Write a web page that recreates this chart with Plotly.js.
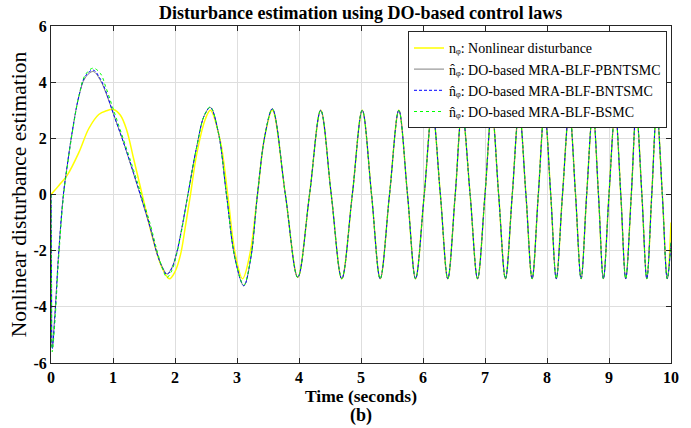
<!DOCTYPE html>
<html><head><meta charset="utf-8">
<script src="https://cdn.plot.ly/plotly-3.0.1.min.js"></script>
<style>html,body{margin:0;padding:0;background:#fff}#chart{width:691px;height:428px}</style>
</head><body><div id="chart"></div>
<script>
// Actual nonlinear disturbance n_phi (yellow)
const tYellow = [0,0.13,0.26,0.45,0.61,0.77,0.89,1.01,1.12,1.22,1.33,1.47,1.65,1.79,1.91,2.00,2.09,2.17,2.25,2.35,2.49,2.57,2.73,2.85,2.97,3.09,3.21,3.33,3.45,3.57,
  3.78,3.98,4.17,4.35,4.52,4.69,4.86,5.02,5.17,5.31,5.46,5.61,5.75,5.88,6.02,6.15,6.28,6.40,6.52,6.63,6.76,6.88,7.00,7.11,7.22,7.33,7.44,7.55,7.66,7.76,7.86,7.96,8.06,8.15,8.25,8.36,8.46,8.55,8.64,8.74,8.83,8.91,9.00,9.10,9.19,9.27,9.36,9.44,9.53,9.61,9.69,9.77,9.86,9.94,10.0];
const nYellow = [0,0.33,0.68,1.5,2.35,2.85,2.98,3.03,2.82,2.3,1.3,0,-1.63,-2.6,-3.0,-2.75,-2.13,-1.1,0,1.44,2.69,3.0,1.92,0,-2.1,-3.0,-2.1,0,2.1,3.0,
  0,-2.95,0,3.0,0,-3.0,0,3.0,0,-3.0,0,3.0,0,-3.0,0,3.0,0,-3.0,0,3.0,0,-3.0,0,3.0,0,-3.0,0,3.0,0,-3.0,0,3.0,0,-3.0,0,3.0,0,-3.0,0,3.0,0,-3.0,0,3.0,0,-3.0,0,3.0,0,-3.0,0,3.0,0,-3.0,-1.0];

// Estimates: early transient (distinct per controller) + common tail
const tEstHead = [0,0.008,0.02,0.07,0.12,0.20,0.26,0.34,0.45,0.55,0.68,0.80,0.88,1.01,1.17,1.33,1.44,1.60,1.71,1.80,1.87,1.95,2.03,2.11,2.20,2.35,2.47,2.57,2.70,2.83,2.97,3.11,3.22,3.33,3.45];
const nGrayHead  = [0,-3.0,-5.4,-4.0,-2.2,0,1.0,2.2,3.5,4.15,4.38,4.05,3.65,2.85,1.85,0.75,-0.02,-1.2,-2.1,-2.6,-2.82,-2.6,-2.05,-1.2,-0.1,1.7,2.8,3.1,2.2,0,-2.3,-3.25,-2.3,0,2.1];
const nBlueHead  = [0,-3.0,-5.5,-4.1,-2.2,0,1.0,2.2,3.5,4.2,4.43,4.1,3.7,2.85,1.85,0.78,0,-1.16,-2.1,-2.62,-2.85,-2.62,-2.05,-1.2,-0.1,1.7,2.8,3.1,2.2,0,-2.3,-3.25,-2.3,0,2.1];
const nGreenHead = [0,-3.0,-5.6,-4.3,-2.4,-0.1,0.95,2.15,3.5,4.25,4.5,4.3,3.85,3.0,1.95,0.88,0.1,-1.05,-2.0,-2.65,-2.95,-2.7,-2.1,-1.25,-0.1,1.7,2.8,3.12,2.2,0,-2.3,-3.22,-2.3,0,2.1];
const tEstTail = [3.57,3.78,3.98,4.17,4.35,4.52,4.69,4.86,5.02,5.17,5.31,5.46,5.61,5.75,5.88,6.02,6.15,6.28,6.40,6.52,6.63,6.76,6.88,7.00,7.11,7.22,7.33,7.44,7.55,7.66,7.76,7.86,7.96,8.06,8.15,8.25,8.36,8.46,8.55,8.64,8.74,8.83,8.91,9.00,9.10,9.19,9.27,9.36,9.44,9.53,9.61,9.69,9.77,9.86,9.94,10.0];
const nEstTail = [3.05,0,-2.95,0,3.0,0,-3.0,0,3.0,0,-3.0,0,3.0,0,-3.0,0,3.0,0,-3.0,0,3.0,0,-3.0,0,3.0,0,-3.0,0,3.0,0,-3.0,0,3.0,0,-3.0,0,3.0,0,-3.0,0,3.0,0,-3.0,0,3.0,0,-3.0,0,3.0,0,-3.0,0,3.0,0,-3.0,-1.7];

const xTicks = [0,1,2,3,4,5,6,7,8,9,10];
const yTicks = [-6,-4,-2,0,2,4,6];
const seriesNames = [
  "n\u1D69: Nonlinear disturbance",
  "n\u0302\u1D69: DO-based MRA-BLF-PBNTSMC",
  "n\u0302\u1D69: DO-based MRA-BLF-BNTSMC",
  "n\u0302\u1D69: DO-based MRA-BLF-BSMC"
];

const serif = "Liberation Serif, Times New Roman, DejaVu Serif, serif";
const sm = 1.0;
const traces = [
  {x: tYellow, y: nYellow, name: seriesNames[0],
   mode: "lines", line: {color: "#ffff00", width: 1.5, shape: "spline", smoothing: sm}},
  {x: tEstHead.concat(tEstTail), y: nGrayHead.concat(nEstTail), name: seriesNames[1],
   mode: "lines", line: {color: "#808080", width: 1, shape: "spline", smoothing: sm}},
  {x: tEstHead.concat(tEstTail), y: nBlueHead.concat(nEstTail), name: seriesNames[2],
   mode: "lines", line: {color: "#0000ff", width: 1, dash: "3px,2px", shape: "spline", smoothing: sm}},
  {x: tEstHead.concat(tEstTail), y: nGreenHead.concat(nEstTail), name: seriesNames[3],
   mode: "lines", line: {color: "#00ff00", width: 1, dash: "dot", shape: "spline", smoothing: sm}}
];

const layout = {
  width: 691, height: 428,
  margin: {l: 50.7, r: 20.3, t: 25.7, b: 65.3},
  paper_bgcolor: "#ffffff", plot_bgcolor: "#ffffff",
  font: {family: serif, color: "#000"},
  title: {text: "<b>Disturbance estimation using DO-based control laws</b>",
    font: {family: serif, size: 18, color: "#000"},
    x: 360.7/691, xref: "container", xanchor: "center", y: 1 - 13/428, yref: "container", yanchor: "middle"},
  xaxis: {range: [0, 10], tickvals: xTicks, ticktext: xTicks.map(v => "<b>" + v + "</b>"),
    showgrid: true, gridcolor: "#dedede", zeroline: false,
    showline: true, linecolor: "#262626", linewidth: 1, mirror: "ticks",
    ticks: "inside", ticklen: 5, tickcolor: "#262626",
    tickfont: {family: serif, size: 16, color: "#000"},
    title: {text: "<b>Time (seconds)</b>", font: {family: serif, size: 17.5, color: "#000"}, standoff: 2},
    automargin: false},
  yaxis: {range: [-6, 6], tickvals: yTicks, ticktext: yTicks.map(v => "<b>" + v + "</b>"),
    showgrid: true, gridcolor: "#dedede", zeroline: false,
    showline: true, linecolor: "#262626", linewidth: 1, mirror: "ticks",
    ticks: "inside", ticklen: 5, tickcolor: "#262626",
    tickfont: {family: serif, size: 16, color: "#000"},
    title: {text: "Nonlinear disturbance estimation", font: {family: serif, size: 21.5, color: "#000"}, standoff: 0},
    automargin: false},
  legend: {x: (666.7 - 50.7) / 620, y: (362.7 - 31) / 337, xanchor: "right", yanchor: "top",
    bgcolor: "#ffffff", bordercolor: "#262626", borderwidth: 1,
    font: {family: serif, size: 14, color: "#000"}, itemwidth: 30, tracegroupgap: 0},
  showlegend: true,
  annotations: [{text: "<b>(b)</b>", x: 0.5, y: (362.7 - 415) / 337, xref: "paper", yref: "paper",
    xanchor: "center", yanchor: "middle", showarrow: false, font: {family: serif, size: 18, color: "#000"}}]
};

Plotly.newPlot("chart", traces, layout, {displayModeBar: false, staticPlot: true});
</script>
</body></html>
